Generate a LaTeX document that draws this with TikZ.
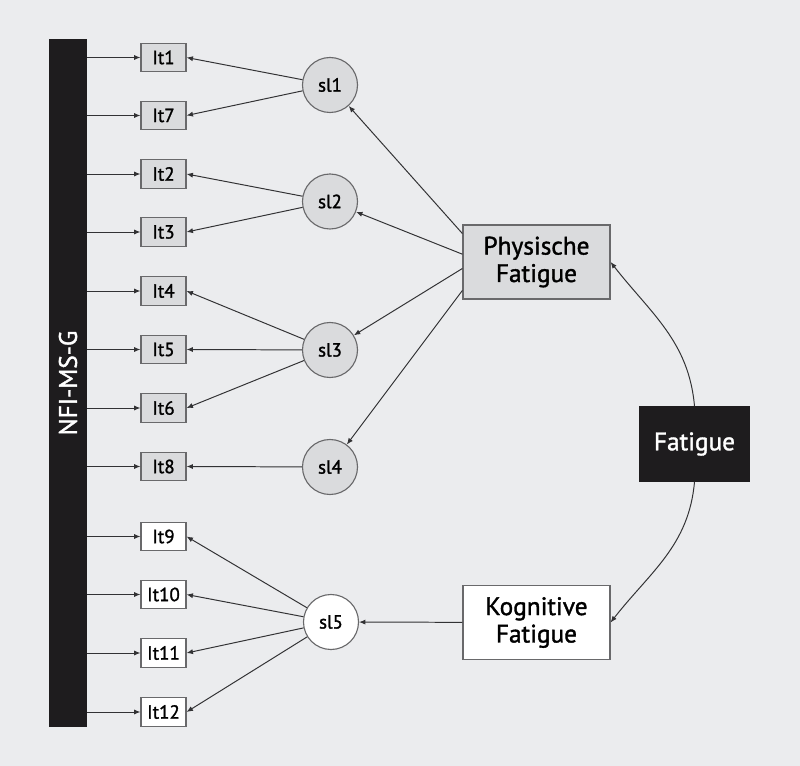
\documentclass[tikz,border=0pt]{standalone}
\usepackage{fontspec}
\setmainfont{PT Sans}
\newfontfamily\medfont{PT Sans}[BoldFont={PT Sans},BoldFeatures={FakeBold=1.4}]
\usepackage{tikz}
\usetikzlibrary{arrows.meta,positioning,calc}
\definecolor{bggray}{RGB}{235,236,238}
\definecolor{boxgray}{RGB}{218,219,221}
\definecolor{edgegray}{RGB}{105,105,107}
\definecolor{linegray}{RGB}{50,50,52}
\definecolor{nearblack}{RGB}{30,28,30}

\begin{document}
\begin{tikzpicture}[
  x=0.025cm,y=-0.025cm,
  item/.style={draw=edgegray,line width=0.8pt,fill=boxgray,minimum width=1.125cm,minimum height=0.72cm,inner sep=0pt,font=\fontsize{13.5}{15}\medfont\bfseries},
  itemw/.style={item,fill=white},
  lat/.style={circle,draw=edgegray,line width=0.8pt,fill=boxgray,minimum size=1.375cm,inner sep=0pt,font=\fontsize{13.5}{15}\medfont\bfseries},
  latw/.style={lat,fill=white},
  factor/.style={draw=edgegray,line width=0.8pt,fill=boxgray,minimum width=3.675cm,minimum height=1.85cm,align=center,inner sep=0pt,font=\fontsize{18}{19.5}\medfont\bfseries},
  factorw/.style={factor,fill=white},
  arr/.style={-{Latex[length=1.6mm,width=1.3mm]},draw=linegray,line width=0.7pt}
]
\fill[bggray] (0,0) rectangle (800,766);

% scale and items
\node[fill=nearblack,minimum width=0.935cm,minimum height=17.2cm,inner sep=0pt,text=white,font=\fontsize{18}{19.5}\medfont\bfseries] (bar) at (68,383) {\rotatebox{90}{NFI-MS-G}};
\node[item] (it1) at (163.5,57.5) {It1};
\node[item] (it7) at (163.5,115.5) {It7};
\node[item] (it2) at (163.5,174) {It2};
\node[item] (it3) at (163.5,232) {It3};
\node[item] (it4) at (163.5,291) {It4};
\node[item] (it5) at (163.5,349.5) {It5};
\node[item] (it6) at (163.5,408) {It6};
\node[item] (it8) at (163.5,466.5) {It8};
\node[itemw] (it9) at (163.5,536.5) {It9};
\node[itemw] (it10) at (163.5,594.5) {It10};
\node[itemw] (it11) at (163.5,653) {It11};
\node[itemw] (it12) at (163.5,712) {It12};

% latent variables
\node[lat] (sl1) at (330,85) {sl1};
\node[lat] (sl2) at (330,201.5) {sl2};
\node[lat] (sl3) at (330,350) {sl3};
\node[lat] (sl4) at (330,467) {sl4};
\node[latw] (sl5) at (331,622) {sl5};

% factors
\node[factor] (phys) at (536.5,262) {Physische\\Fatigue};
\node[factorw] (kog) at (536.5,622.5) {Kognitive\\Fatigue};
\node[fill=nearblack,minimum width=2.775cm,minimum height=1.875cm,inner sep=0pt,text=white,font=\fontsize{18}{19.5}\medfont\bfseries] (fat) at (694.5,444) {Fatigue};

\draw[arr] (bar.east |- it1) -- (it1.west);
\draw[arr] (bar.east |- it7) -- (it7.west);
\draw[arr] (bar.east |- it2) -- (it2.west);
\draw[arr] (bar.east |- it3) -- (it3.west);
\draw[arr] (bar.east |- it4) -- (it4.west);
\draw[arr] (bar.east |- it5) -- (it5.west);
\draw[arr] (bar.east |- it6) -- (it6.west);
\draw[arr] (bar.east |- it8) -- (it8.west);
\draw[arr] (bar.east |- it9) -- (it9.west);
\draw[arr] (bar.east |- it10) -- (it10.west);
\draw[arr] (bar.east |- it11) -- (it11.west);
\draw[arr] (bar.east |- it12) -- (it12.west);

\draw[arr] (sl1) -- (it1.east);
\draw[arr] (sl1) -- (it7.east);
\draw[arr] (sl2) -- (it2.east);
\draw[arr] (sl2) -- (it3.east);
\draw[arr] (sl3) -- (it4.east);
\draw[arr] (sl3) -- (it5.east);
\draw[arr] (sl3) -- (it6.east);
\draw[arr] (sl4) -- (it8.east);
\draw[arr] (sl5) -- (it9.east);
\draw[arr] (sl5) -- (it10.east);
\draw[arr] (sl5) -- (it11.east);
\draw[arr] (sl5) -- (it12.east);

\draw[arr] (phys.159) -- (sl1);
\draw[arr] (phys.174) -- (sl2);
\draw[arr] (phys.185) -- (sl3);
\draw[arr] (phys.201) -- (sl4);
\draw[arr] (kog) -- (sl5);

\draw[arr] (fat.north) to[out=95,in=-52] (phys.east);
\draw[arr] (fat.south) to[out=-95,in=52] (kog.east);
\end{tikzpicture}
\end{document}
